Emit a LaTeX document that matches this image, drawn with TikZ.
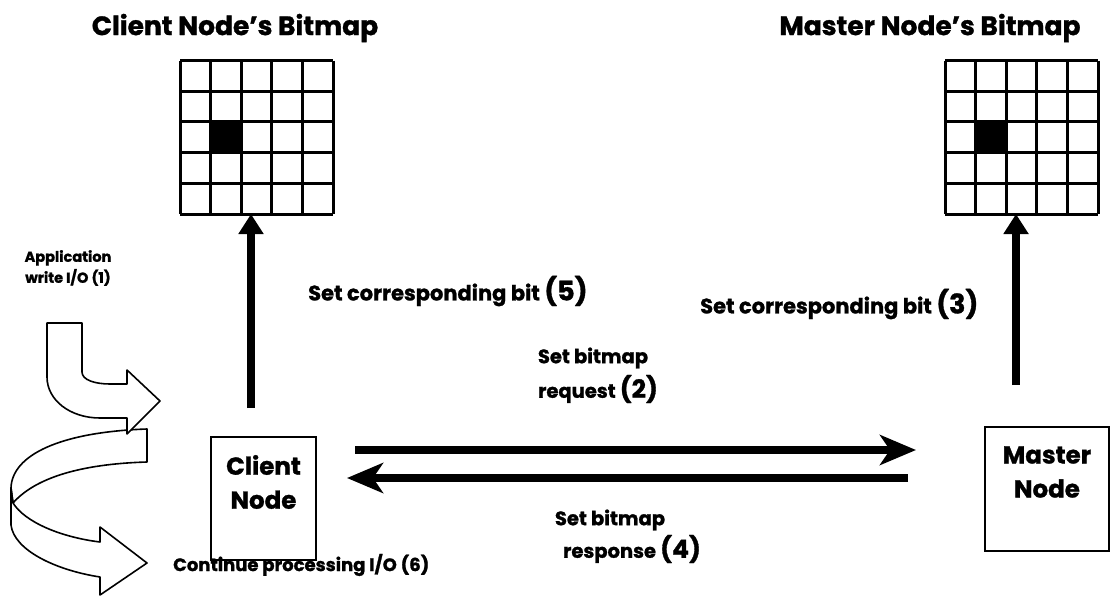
\documentclass[tikz,border=0pt]{standalone}
\usepackage{fontspec}
\setmainfont{Poppins}[BoldFeatures={FakeBold=1.2}]
\usetikzlibrary{arrows.meta}
\begin{document}
\begin{tikzpicture}[x=1pt,y=-1pt,
  lbl/.style={font=\bfseries\fontsize{19.5}{22}\selectfont, inner sep=0pt},
  ttl/.style={font=\bfseries\fontsize{26.5}{30}\selectfont, inner sep=0pt},
  small/.style={font=\bfseries\fontsize{14.5}{21}\selectfont, inner sep=0pt, align=center},
  nodebox/.style={draw, line width=2pt, fill=white, minimum width=105pt, minimum height=123pt, inner sep=0pt},
  nodetxt/.style={font=\bfseries\fontsize{24.5}{34}\selectfont, align=center},
  uparrow/.style={line width=8pt, -{Triangle[length=20pt,width=24pt]}},
  sidearrow/.style={line width=8pt, -{Stealth[length=36pt,width=30pt,inset=10pt]}},
  ribbon/.style={draw, line width=1.6pt, fill=white, line join=round},
  gridline/.style={line width=3pt},
]
\useasboundingbox (0,0) rectangle (1114,597);

% titles
\node[ttl] (ctitle) at (235,28) {Client Node’s Bitmap};
\node[ttl] (mtitle) at (930,28) {Master Node’s Bitmap};

% client bitmap
\fill (211,122) rectangle (241,152);
\foreach \i in {0,...,5} {
  \draw[gridline] (180+30.6*\i,60.5) -- (180+30.6*\i,214);
  \draw[gridline] (180,60.5+30.7*\i) -- (333,60.5+30.7*\i);
}
\node[minimum size=153pt, inner sep=0pt] (cgrid) at (256.5,137.3) {};
% master bitmap
\fill (976,122) rectangle (1006,152);
\foreach \i in {0,...,5} {
  \draw[gridline] (945+30.6*\i,60.5) -- (945+30.6*\i,214);
  \draw[gridline] (945,60.5+30.7*\i) -- (1098,60.5+30.7*\i);
}
\node[minimum size=153pt, inner sep=0pt] (mgrid) at (1021.5,137.3) {};

% nodes
\node[nodebox] (client) at (263.5,498.5) {};
\node[nodetxt] (clienttxt) at (263.5,482) {Client\\Node};
\node[nodebox, minimum width=124pt, minimum height=124pt] (master) at (1047,489) {};
\node[nodetxt] (mastertxt) at (1047,472) {Master\\Node};

% vertical arrows
\coordinate (cup) at (251,408);
\coordinate (mup) at (1016,385);
\draw[uparrow] (cup) -- (cup |- cgrid.south);
\draw[uparrow] (mup) -- (mup |- mgrid.south);

% horizontal arrows
\coordinate (reqs) at (355,450);
\coordinate (reqe) at (916,450);
\coordinate (ress) at (908,478);
\coordinate (rese) at (347,478);
\draw[sidearrow] (reqs) -- (reqe);
\draw[sidearrow] (ress) -- (rese);

% labels
\node[lbl, anchor=west, font=\bfseries\fontsize{21}{24}\selectfont] (l5) at (308,291) {Set corresponding bit {\fontsize{27}{28}\selectfont(5)}};
\node[lbl, anchor=west, font=\bfseries\fontsize{21}{24}\selectfont] (l3) at (700,304) {Set corresponding bit {\fontsize{27}{28}\selectfont(3)}};
\node[lbl] (l2a) at (593,358) {Set bitmap};
\node[lbl] (l2b) at (598,389) {request {\fontsize{25}{26}\selectfont(2)}};
\node[lbl] (l4a) at (610,520) {Set bitmap};
\node[lbl] (l4b) at (632,549) {response {\fontsize{25}{26}\selectfont(4)}};
\node[small] (l1) at (68,268) {Application\\write I/O (1)};

% lower ribbon arrow
\draw[ribbon] (147,429) .. controls (60,432) and (12,455) .. (11,488) -- (13,503)
  .. controls (35,478) and (80,464) .. (147,462) -- cycle;
\draw[ribbon] (11,488) -- (11,525) .. controls (14,550) and (55,570) .. (100,577)
  -- (100,595) -- (147,563) -- (100,527) -- (100,542)
  .. controls (60,537) and (25,522) .. (13,503) -- cycle;
% upper bent arrow
\draw[ribbon] (47,323) -- (82,323) -- (82,372) .. controls (82,380) and (95,384) .. (110,384)
  -- (127,384) -- (127,370) -- (160,401) -- (127,434) -- (127,418) -- (100,418)
  .. controls (70,418) and (47,400) .. (47,377) -- cycle;

\node[lbl, anchor=west, font=\bfseries\fontsize{18}{21}\selectfont] (l6) at (173,565) {Continue processing I/O (6)};
\end{tikzpicture}
\end{document}
